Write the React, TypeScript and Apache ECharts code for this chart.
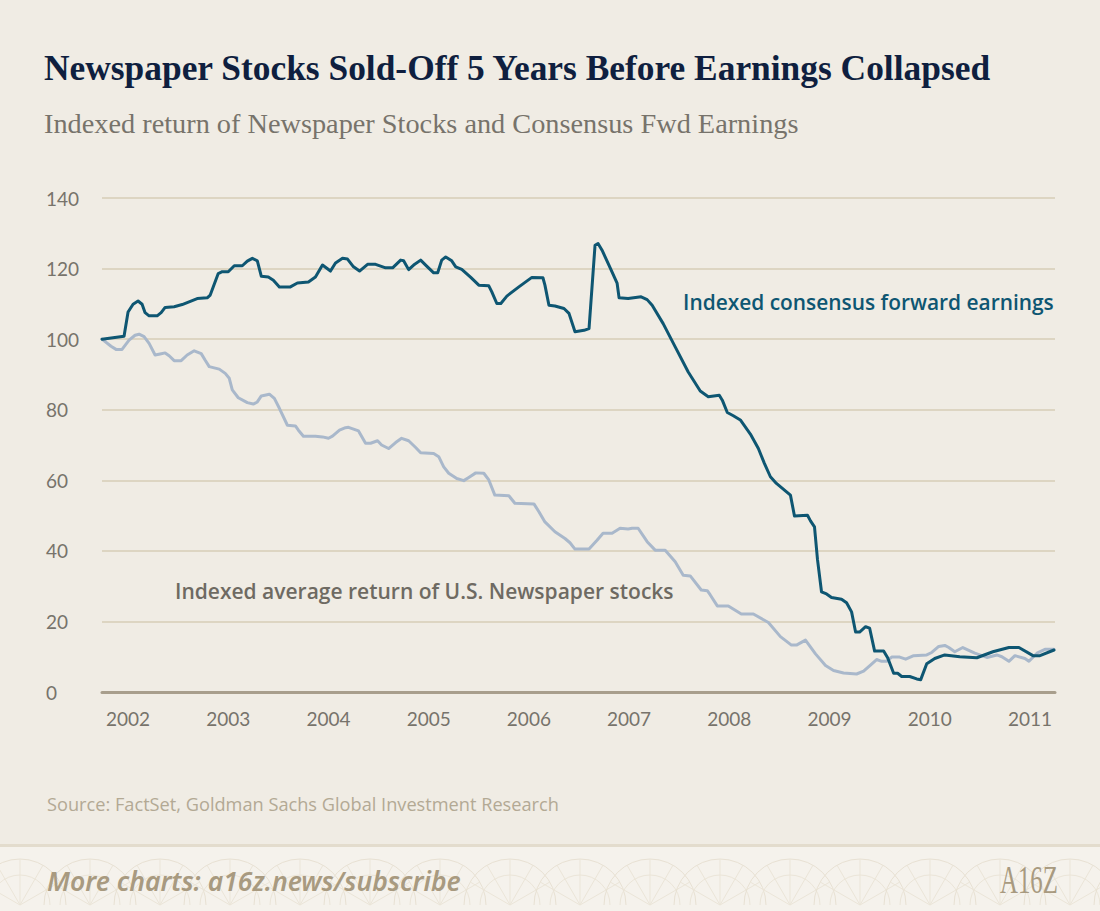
import React, { useEffect, useRef } from "react";
import * as echarts from "echarts";

const TITLE = "Newspaper Stocks Sold-Off 5 Years Before Earnings Collapsed";
const SUBTITLE = "Indexed return of Newspaper Stocks and Consensus Fwd Earnings";
const SOURCE = "Source: FactSet, Goldman Sachs Global Investment Research";
const FOOTER = "More charts: a16z.news/subscribe";
const LOGO = "A16Z";
const EARNINGS_LABEL = "Indexed consensus forward earnings";
const STOCKS_LABEL = "Indexed average return of U.S. Newspaper stocks";

const yearTicks = [2002, 2003, 2004, 2005, 2006, 2007, 2008, 2009, 2010, 2011];
const yMin = 0;
const yMax = 140;
const yStep = 20;
const xStart = 2001.74;
const xEnd = 2011.25;

// Indexed consensus forward earnings (decimal year, index)
const earningsDates = [
  2001.74, 2001.96, 2002.0, 2002.05, 2002.1, 2002.14, 2002.17, 2002.21, 2002.29, 2002.33,
  2002.37, 2002.46, 2002.54, 2002.69, 2002.79, 2002.82, 2002.9, 2002.94, 2003.0, 2003.06,
  2003.14, 2003.19, 2003.24, 2003.29, 2003.33, 2003.4, 2003.45, 2003.51, 2003.62, 2003.69,
  2003.8, 2003.87, 2003.94, 2004.02, 2004.07, 2004.14, 2004.19, 2004.25, 2004.31, 2004.39,
  2004.47, 2004.57, 2004.64, 2004.72, 2004.75, 2004.8, 2004.85, 2004.92, 2004.98, 2005.05,
  2005.09, 2005.13, 2005.17, 2005.23, 2005.27, 2005.33, 2005.42, 2005.5, 2005.6, 2005.63,
  2005.68, 2005.72, 2005.78, 2005.9, 2006.03, 2006.14, 2006.16, 2006.2, 2006.26, 2006.35,
  2006.4, 2006.46, 2006.55, 2006.6, 2006.66, 2006.69, 2006.73, 2006.81, 2006.88, 2006.9,
  2006.99, 2007.12, 2007.18, 2007.23, 2007.34, 2007.46, 2007.59, 2007.71, 2007.79, 2007.9,
  2007.93, 2007.98, 2008.04, 2008.11, 2008.21, 2008.29, 2008.35, 2008.41, 2008.47, 2008.61,
  2008.65, 2008.78, 2008.81, 2008.85, 2008.88, 2008.92, 2008.97, 2009.02, 2009.12, 2009.17,
  2009.22, 2009.26, 2009.3, 2009.36, 2009.4, 2009.45, 2009.54, 2009.58, 2009.64, 2009.68,
  2009.72, 2009.8, 2009.87, 2009.91, 2009.97, 2010.05, 2010.15, 2010.3, 2010.47, 2010.63,
  2010.79, 2010.89, 2011.03, 2011.1, 2011.24,
];
const earningsValues = [
  100, 100.8, 107.7, 109.9, 110.8, 109.9, 107.5, 106.6, 106.6, 107.5,
  109, 109.2, 109.8, 111.5, 111.7, 112.5, 118.6, 119.1, 119.1, 120.8,
  120.8, 122.1, 122.9, 122.2, 117.8, 117.6, 116.7, 114.8, 114.8, 115.9,
  116.2, 117.6, 121, 119.3, 121.6, 122.9, 122.7, 120.5, 119.3, 121.2,
  121.2, 120.2, 120.2, 122.4, 122.2, 119.7, 121, 122.4, 120.7, 118.8,
  118.8, 122.4, 123.3, 122.2, 120.5, 119.8, 117.5, 115.3, 115.1, 113.4,
  110.1, 110.1, 112.2, 114.8, 117.5, 117.4, 115.3, 109.6, 109.4, 108.7,
  107.3, 102.1, 102.5, 103, 126.6, 127.1, 125.2, 120.3, 115.9, 111.7,
  111.5, 112, 111.2, 109.6, 104.4, 97.8, 90.7, 85.3, 83.7, 84.1,
  82.7, 79.2, 78.3, 77.1, 73.1, 69, 64.8, 61, 59.1, 55.8,
  49.9, 50.1, 48.5, 46.8, 37.5, 28.4, 27.8, 26.8, 26.3, 25.3,
  22.7, 17, 17, 18.5, 18.1, 11.6, 11.6, 9.7, 5.3, 5.3,
  4.4, 4.4, 3.7, 3.5, 8, 9.5, 10.5, 10, 9.7, 11.4,
  12.6, 12.6, 10.3, 10.3, 11.9,
];

// Indexed average return of U.S. newspaper stocks (decimal year, index)
const stockDates = [
  2001.74, 2001.83, 2001.88, 2001.94, 2002.01, 2002.07, 2002.11, 2002.16, 2002.21, 2002.27,
  2002.32, 2002.37, 2002.41, 2002.46, 2002.53, 2002.59, 2002.66, 2002.73, 2002.77, 2002.81,
  2002.91, 2002.97, 2003.01, 2003.04, 2003.1, 2003.19, 2003.25, 2003.29, 2003.33, 2003.41,
  2003.46, 2003.51, 2003.59, 2003.67, 2003.7, 2003.75, 2003.87, 2003.94, 2004.0, 2004.04,
  2004.11, 2004.17, 2004.2, 2004.3, 2004.37, 2004.42, 2004.49, 2004.53, 2004.6, 2004.67,
  2004.73, 2004.8, 2004.87, 2004.92, 2005.05, 2005.1, 2005.15, 2005.2, 2005.28, 2005.35,
  2005.4, 2005.47, 2005.55, 2005.6, 2005.66, 2005.8, 2005.86, 2006.05, 2006.1, 2006.16,
  2006.26, 2006.36, 2006.41, 2006.46, 2006.6, 2006.68, 2006.74, 2006.83, 2006.91, 2006.99,
  2007.03, 2007.09, 2007.18, 2007.26, 2007.36, 2007.46, 2007.54, 2007.61, 2007.72, 2007.78,
  2007.81, 2007.88, 2007.99, 2008.12, 2008.24, 2008.39, 2008.51, 2008.62, 2008.67, 2008.76,
  2008.86, 2008.96, 2009.04, 2009.14, 2009.27, 2009.34, 2009.4, 2009.47, 2009.52, 2009.57,
  2009.62, 2009.7, 2009.76, 2009.84, 2009.97, 2010.02, 2010.09, 2010.15, 2010.19, 2010.25,
  2010.33, 2010.45, 2010.57, 2010.67, 2010.72, 2010.79, 2010.85, 2010.95, 2010.99, 2011.07,
  2011.15, 2011.24,
];
const stockValues = [
  100, 98, 97.1, 97.1, 99.7, 101.1, 101.4, 100.7, 98.8, 95.5,
  95.8, 96.1, 95.3, 93.9, 93.9, 95.5, 96.7, 95.9, 94, 92.2,
  91.5, 90.3, 88.9, 85.6, 83.4, 82, 81.6, 82.2, 83.9, 84.4,
  83.2, 80.4, 75.6, 75.4, 74.2, 72.5, 72.5, 72.3, 71.9, 72.5,
  74.2, 74.9, 75, 74, 70.5, 70.5, 71.2, 70, 69, 70.7,
  71.9, 71.2, 69.3, 67.8, 67.6, 66.7, 63.8, 62, 60.5, 59.9,
  60.8, 62.1, 62, 60.1, 55.8, 55.6, 53.5, 53.3, 51.1, 48.2,
  45.4, 43.5, 42.3, 40.5, 40.5, 43, 45, 45, 46.4, 46.2,
  46.4, 46.4, 42.6, 40.2, 40.2, 36.9, 33.1, 32.9, 28.9, 28.7,
  27.5, 24.4, 24.4, 22.1, 22.1, 19.7, 15.7, 13.3, 13.3, 14.7,
  10.8, 7.5, 6.1, 5.4, 5.1, 5.9, 7.4, 9.2, 8.7, 8.7,
  9.9, 9.9, 9.3, 10.3, 10.5, 11.2, 12.9, 13.2, 12.6, 11.4,
  12.6, 11, 9.8, 10.5, 10, 8.7, 10.3, 9.5, 8.7, 11,
  12.1, 12.1,
];

const BG = "#f0ece4";
const TEAL = "#0e5672";
const STEEL = "#a9b8cb";
const GRID = "#ddd5c2";
const AXIS = "#a89e8c";
const TICK_TEXT = "#77736b";

function footerPattern(): any[] {
  const els: any[] = [];
  for (let i = 0; i < 17; i++) {
    const cx = 20 + i * 70;
    els.push({
      type: "arc",
      silent: true,
      shape: { cx, cy: 905, r: 46, startAngle: Math.PI, endAngle: 2 * Math.PI },
      style: { stroke: "#e8e1d3", lineWidth: 1, fill: null },
    });
    els.push({
      type: "arc",
      silent: true,
      shape: { cx, cy: 905, r: 30, startAngle: Math.PI, endAngle: 2 * Math.PI },
      style: { stroke: "#ebe5d8", lineWidth: 1, fill: null },
    });
    for (let k = 1; k < 6; k++) {
      const a = Math.PI + (k * Math.PI) / 6;
      els.push({
        type: "line",
        silent: true,
        shape: { x1: cx, y1: 905, x2: cx + 46 * Math.cos(a), y2: 905 + 46 * Math.sin(a) },
        style: { stroke: "#ebe5d8", lineWidth: 1 },
      });
    }
  }
  return els;
}

export default function App() {
  const ref = useRef<HTMLDivElement>(null);

  useEffect(() => {
    document.body.style.margin = "0";
    const chart = echarts.init(ref.current!, null, { renderer: "svg" });
    const earnings = earningsDates.map((d, i) => [d, earningsValues[i]]);
    const stocks = stockDates.map((d, i) => [d, stockValues[i]]);

    chart.setOption({
      animation: false,
      backgroundColor: BG,
      grid: { left: 102, right: 45, top: 198, bottom: 219 },
      xAxis: {
        type: "value",
        min: xStart,
        max: xEnd,
        axisLine: { show: true, lineStyle: { color: AXIS, width: 3 } },
        axisTick: { show: false },
        splitLine: { show: false },
        axisLabel: {
          customValues: yearTicks,
          formatter: (v: number) => String(Math.round(v)),
          color: TICK_TEXT,
          fontFamily: "Lato",
          fontSize: 19,
          margin: 17,
        },
      },
      yAxis: {
        type: "value",
        min: yMin,
        max: yMax,
        interval: yStep,
        axisLine: { show: false },
        axisTick: { show: false },
        splitLine: { show: true, lineStyle: { color: GRID, width: 2 } },
        axisLabel: {
          color: TICK_TEXT,
          fontFamily: "Lato",
          fontSize: 19,
          align: "left",
          margin: 56,
        },
      },
      series: [
        {
          name: STOCKS_LABEL,
          type: "line",
          data: stocks,
          showSymbol: false,
          lineStyle: { color: STEEL, width: 3, join: "round", cap: "round" },
          z: 2,
        },
        {
          name: EARNINGS_LABEL,
          type: "line",
          data: earnings,
          showSymbol: false,
          lineStyle: { color: TEAL, width: 3, join: "round", cap: "round" },
          z: 3,
        },
      ],
      graphic: [
        {
          type: "rect",
          silent: true,
          z: -10,
          shape: { x: 0, y: 845, width: 1100, height: 66 },
          style: { fill: "#f5f2ec" },
        },
        {
          type: "group",
          silent: true,
          z: -9,
          children: footerPattern(),
        },
        {
          type: "rect",
          silent: true,
          z: -8,
          shape: { x: 0, y: 844, width: 1100, height: 3 },
          style: { fill: "#e3dccd" },
        },
        {
          type: "text",
          x: 44,
          y: 68,
          style: {
            text: TITLE,
            fill: "#0f1f3f",
            font: "bold 35.4px 'Liberation Serif'",
            verticalAlign: "middle",
          },
        },
        {
          type: "text",
          x: 44,
          y: 123,
          style: {
            text: SUBTITLE,
            fill: "#77736b",
            font: "28.3px 'Liberation Serif'",
            verticalAlign: "middle",
          },
        },
        {
          type: "text",
          x: 683,
          y: 302,
          style: {
            text: EARNINGS_LABEL,
            fill: TEAL,
            font: "600 20.9px 'Open Sans'",
            verticalAlign: "middle",
          },
        },
        {
          type: "text",
          x: 175,
          y: 591,
          style: {
            text: STOCKS_LABEL,
            fill: "#6e6a62",
            font: "600 21px 'Open Sans'",
            verticalAlign: "middle",
          },
        },
        {
          type: "text",
          x: 47,
          y: 804,
          style: {
            text: SOURCE,
            fill: "#b3a994",
            font: "18.2px 'Open Sans'",
            verticalAlign: "middle",
          },
        },
        {
          type: "text",
          x: 47,
          y: 881,
          style: {
            text: FOOTER,
            fill: "#a89a80",
            font: "italic 600 26.5px 'Noto Sans'",
            verticalAlign: "middle",
          },
        },
        {
          type: "text",
          x: 1000,
          y: 879,
          scaleX: 0.62,
          style: {
            text: LOGO,
            fill: "#a89a80",
            font: "40px 'Liberation Serif'",
            verticalAlign: "middle",
          },
        },
      ],
    });
    return () => chart.dispose();
  }, []);

  return (
    <div
      ref={ref}
      style={{ position: "absolute", left: 0, top: 0, width: 1100, height: 911 }}
    />
  );
}
